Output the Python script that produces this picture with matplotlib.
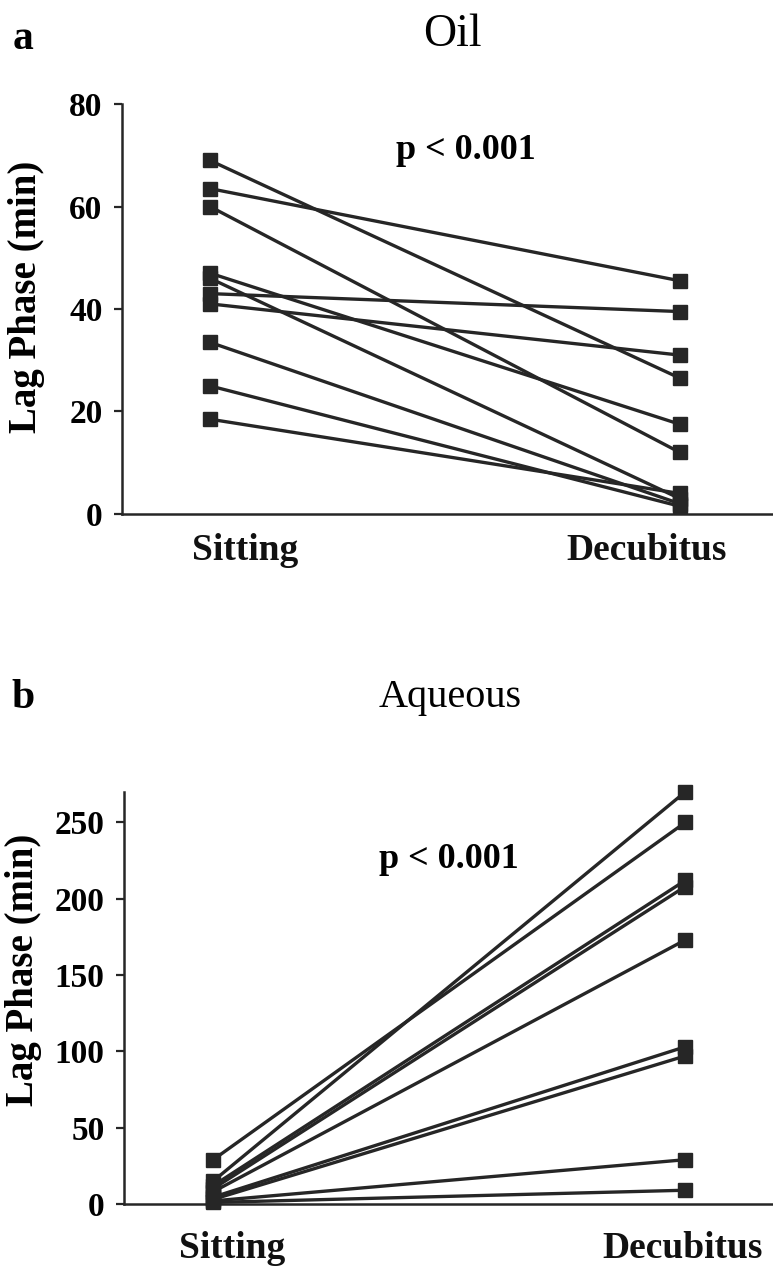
import matplotlib
matplotlib.use('Agg')
import matplotlib.pyplot as plt
import matplotlib.transforms as mtransforms

plt.rcParams['font.family'] = ['Liberation Serif', 'DejaVu Serif']

positions = ["Sitting", "Decubitus"]

# lag phase (min), one entry per subject
oil_sitting = [69, 63.5, 60, 47, 46, 43, 41, 33.5, 25, 18.5]
oil_decubitus = [26.5, 45.5, 12, 17.5, 3, 39.5, 31, 2, 1.5, 4]

aq_sitting = [29, 15, 12, 10, 8, 4.5, 3, 2, 1]
aq_decubitus = [250, 270, 212, 208, 173, 103, 97, 29, 9]

p_text = "p < 0.001"
ink = "#262626"


def panel(ax, before, after, yticks, ylim, xlim, label_pos, label_y, ylab_xy):
  for a, b in zip(before, after):
    ax.plot([0, 1], [a, b], color=ink, lw=2.4, marker='s', ms=9.5,
            mfc=ink, mec=ink, solid_capstyle='round', clip_on=False, zorder=3)
  ax.set_xlim(*xlim)
  ax.set_ylim(*ylim)
  ax.set_yticks(yticks)
  ax.set_yticklabels([str(t) for t in yticks], fontsize=24, fontweight='bold')
  ax.tick_params(axis='y', direction='out', length=6, width=1.6, pad=8, color=ink)
  ax.set_xticks([])
  ax.spines['top'].set_visible(False)
  ax.spines['right'].set_visible(False)
  for s in ('left', 'bottom'):
    ax.spines[s].set_linewidth(1.8)
    ax.spines[s].set_color(ink)
  ax.set_ylabel("Lag Phase (min)", fontsize=28, fontweight='bold')
  ax.yaxis.set_label_coords(*ylab_xy)
  trans = mtransforms.blended_transform_factory(ax.transData, ax.transAxes)
  for name, xp in zip(positions, label_pos):
    ax.text(xp, label_y, name, transform=trans, ha='center', va='center',
            fontsize=27, fontweight='bold', color='#111111')


fig = plt.figure(figsize=(7.73, 12.7), dpi=100)

ax1 = fig.add_axes([0.1578, 0.5953, 0.8422, 0.3228])
panel(ax1, oil_sitting, oil_decubitus, [0, 20, 40, 60, 80], (0, 80),
      (-0.187, 1.198), [0.075, 0.93], -0.088, (-0.118, 0.529))
ax1.text(0.545, 71, p_text, fontsize=26, fontweight='bold', ha='center', va='center')
fig.text(0.585, 0.973, "Oil", fontsize=33, ha='center', va='center')
fig.text(0.03, 0.969, "a", fontsize=30, fontweight='bold', ha='center', va='center')

ax2 = fig.add_axes([0.1604, 0.052, 0.8396, 0.3244])
panel(ax2, aq_sitting, aq_decubitus, [0, 50, 100, 150, 200, 250], (0, 270),
      (-0.189, 1.186), [0.04, 0.995], -0.107, (-0.126, 0.568))
ax2.text(0.5, 226, p_text, fontsize=26, fontweight='bold', ha='center', va='center')
fig.text(0.582, 0.451, "Aqueous", fontsize=29, ha='center', va='center')
fig.text(0.03, 0.450, "b", fontsize=30, fontweight='bold', ha='center', va='center')

fig.savefig("out.png", dpi=100)
